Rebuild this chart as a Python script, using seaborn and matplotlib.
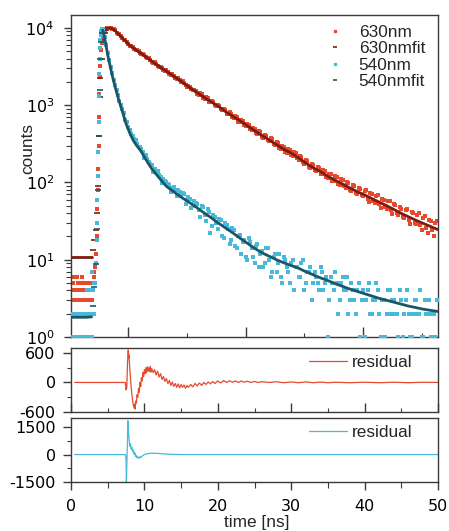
import numpy as np
import pandas as pd
import matplotlib
matplotlib.use("Agg")
import matplotlib.pyplot as plt
import seaborn as sns
from matplotlib.ticker import FixedLocator, LogLocator, NullFormatter
from matplotlib.lines import Line2D

# ---------------- data ----------------
# 630 nm decay: baseline, rise and decay parts (time in ns, counts)
red_base_t = np.round(np.arange(0, 3.15, 0.1), 2)
red_base_c = [6, 4, 3, 5, 6, 3, 2, 4, 6, 5, 3, 2, 4, 3, 5, 6, 4, 3, 2, 5,
              4, 3, 3, 4, 5, 2, 3, 4, 5, 3, 4, 6]
red_rise_t = [3.2, 3.3, 3.4, 3.5, 3.55, 3.6, 3.65, 3.7, 3.75, 3.8, 3.85, 3.9,
              3.95, 4.0, 4.1, 4.2, 4.3, 4.4, 4.5, 4.6, 4.7, 4.8, 4.9, 5.0]
red_rise_c = [7, 8, 12, 20, 30, 45, 80, 150, 300, 700, 1400, 2300,
              3200, 4000, 5200, 6300, 7300, 8100, 8800, 9200, 9500, 9800, 9900, 10100]
red_decay_t = np.round(np.arange(5.2, 49.7, 0.4), 1)
red_decay_c = [9950, 9700, 9300, 8400, 7900, 7000, 6600, 5900, 5700, 5150,
               5000, 4550, 4420, 4050, 3900, 3550, 3450, 3100, 3060, 2760,
               2720, 2480, 2420, 2180, 2150, 2040, 1800, 1790, 1600, 1590,
               1410, 1430, 1250, 1280, 1110, 1150, 1000, 1020, 880, 905,
               780, 810, 700, 720, 615, 650, 550, 575, 485, 510,
               440, 460, 390, 410, 350, 372, 312, 330, 280, 298,
               250, 270, 228, 245, 205, 220, 182, 195, 160, 175,
               145, 160, 130, 145, 118, 130, 106, 120, 96, 110,
               90, 100, 80, 92, 74, 85, 68, 78, 62, 72,
               57, 66, 52, 62, 48, 57, 44, 52, 40, 48,
               36, 44, 33, 41, 30, 38, 28, 35, 26, 33,
               24, 30]
red_decay2_t = np.round(np.arange(5.4, 49.9, 0.4), 1)
red_decay2_c = [9850, 9550, 8700, 8300, 7300, 6950, 6150, 5850, 5300, 5150,
                4700, 4600, 4150, 4050, 3650, 3570, 3200, 3150, 2850, 2820,
                2540, 2500, 2250, 2230, 1990, 1960, 1740, 1740, 1550, 1540,
                1370, 1380, 1210, 1230, 1090, 1100, 970, 985, 860, 870,
                760, 780, 680, 700, 605, 630, 540, 560, 475, 495,
                425, 445, 380, 400, 340, 362, 305, 322, 272, 290,
                244, 265, 222, 240, 198, 214, 175, 190, 155, 170,
                140, 156, 127, 142, 114, 128, 103, 117, 94, 107,
                86, 98, 78, 90, 71, 83, 66, 80, 56, 70,
                55, 68, 47, 60, 46, 58, 39, 51, 38, 46,
                35, 46, 29, 40, 29, 40, 24, 37, 22, 32,
                20, 32]

fit630_t = [0, 1, 2, 2.8, 3.0, 3.2, 3.4, 3.6, 3.7, 3.8, 3.9, 4.0, 4.2, 4.4, 4.6, 4.8,
            5.0, 5.3, 5.6, 6, 7, 8, 9, 10, 11, 12, 13, 14, 15, 16, 17, 18, 19, 20,
            21, 22, 23, 24, 25, 26, 27, 28, 29, 30, 31, 32, 33, 34, 35, 36, 37, 38,
            39, 40, 41, 42, 43, 44, 45, 46, 47, 48, 49, 50]
fit630_c = [10.7, 10.7, 10.7, 10.7, 13.2, 17.8, 24.0, 39.8, 89, 398, 1259, 2239,
            3981, 7079, 8511, 9333, 9886, 10000, 9772, 9226, 7413, 5957, 5070, 4365,
            3715, 3162, 2754, 2371, 2042, 1738, 1496, 1288, 1122, 977, 832, 724, 631,
            543, 468, 407, 355, 309, 269, 240, 209, 178, 155, 138, 120, 107, 95.5,
            85.1, 75.9, 69.2, 61.7, 55.6, 50.1, 44.7, 39.8, 35.9, 32.4, 29.5, 26.9, 24.5]

# 540 nm decay
cyan_base_t = np.round(np.arange(0, 3.25, 0.1), 2)
cyan_base_c = [1, 1, 2, 1, 1, 2, 2, 1, 1, 1, 2, 2, 1, 1, 1, 1, 2, 1, 1, 2,
               1, 1, 4, 2, 1, 4, 2, 4, 1, 7, 4, 2, 5]
cyan_rise_t = [3.3, 3.4, 3.5, 3.55, 3.6, 3.65, 3.7, 3.75, 3.8, 3.85, 3.9, 3.95,
               4.0, 4.05, 4.1, 4.2, 4.3]
cyan_rise_c = [5, 9, 18, 30, 60, 120, 250, 600, 1300, 2500, 4000, 5500,
               7000, 8200, 9000, 9800, 9500]
cyan_early_t = np.round(np.arange(4.4, 9.1, 0.2), 1)
cyan_early_c = [9200, 7600, 6000, 4700, 3800, 3150, 2600, 2150, 1850, 1560,
                1350, 1150, 1020, 880, 790, 650, 600, 520, 480, 420,
                400, 360, 350, 315]
cyan_late_t = np.round(np.arange(9.4, 49.9, 0.4), 1)
cyan_late_c = [290, 250, 225, 185, 170, 150, 140, 118, 112, 100,
               92, 86, 78, 80, 68, 70, 60, 62, 50, 55,
               44, 50, 38, 45, 22, 38, 30, 34, 20, 30,
               25, 18, 24, 14, 21, 17, 11, 19, 14, 9,
               16, 12, 8, 14, 10, 7, 12, 9, 6, 11,
               8, 5, 10, 8, 6, 9, 4, 7, 8, 5,
               6, 4, 7, 5, 1, 6, 4, 5, 3, 6,
               4, 2, 5, 3, 4, 1, 4, 3, 5, 2,
               3, 4, 1, 3, 2, 4, 3, 2, 1, 3,
               2, 4, 1, 2, 3, 2, 1, 3, 2, 1,
               2, 3]
cyan_late2_t = np.round(np.arange(9.6, 49.7, 0.4), 1)
cyan_late2_c = [270, 205, 200, 175, 135, 142, 125, 98, 105, 95,
                75, 88, 66, 76, 72, 52, 65, 47, 58, 52,
                36, 48, 32, 42, 27, 36, 25, 33, 19, 28,
                16, 26, 15, 20, 12, 18, 10, 17, 11, 15,
                8, 13, 9, 14, 6, 11, 7, 12, 5, 10,
                7, 9, 4, 8, 6, 10, 5, 7, 3, 7,
                5, 8, 4, 6, 3, 5, 7, 2, 5, 4,
                6, 3, 4, 2, 5, 3, 1, 4, 2, 3,
                5, 2, 3, 1, 4, 2, 3, 2, 4, 1,
                3, 2, 1, 3, 2, 4, 1, 2, 3, 2,
                1]

fit540_t = [0, 1, 2, 2.8, 3.0, 3.2, 3.4, 3.6, 3.7, 3.8, 3.9, 4.0, 4.1, 4.2, 4.3, 4.4,
            4.6, 4.8, 5.0, 5.3, 5.6, 6.0, 6.5, 7.0, 7.5, 8.0, 8.5, 9.0, 9.5, 10, 10.5,
            11, 12, 13, 14, 15, 16, 17, 18, 19, 20, 21, 22, 23, 24, 25, 26, 27, 28,
            29, 30, 31, 32, 33, 34, 35, 36, 37, 38, 39, 40, 41, 42, 43, 44, 45, 46,
            47, 48, 49, 50]
fit540_c = [1.8, 1.8, 1.8, 1.82, 2.51, 4.47, 8.91, 25.1, 79.4, 398, 1585, 3981, 6607,
            8511, 9333, 8913, 7244, 5754, 4467, 3311, 2455, 1738, 1175, 832, 575, 437,
            347, 295, 257, 214, 178, 151, 115, 89.1, 75.9, 64.6, 56.2, 48.4, 41.2,
            35.5, 30.2, 26.0, 22.4, 19.1, 16.4, 14.1, 12.3, 11.1, 10.0, 9.12, 8.41,
            7.76, 7.0, 6.38, 5.82, 5.37, 4.90, 4.52, 4.17, 3.89, 3.63, 3.39, 3.16,
            2.99, 2.82, 2.66, 2.51, 2.40, 2.29, 2.21, 2.14]
fit630_rise = (2.9, 5.2)   # time window where the fit is drawn as sparse dashes
fit540_rise = (2.9, 4.25)

# residuals
res630_t = [0.5, 7.4, 7.5, 7.6, 7.7, 7.8, 7.85, 7.9, 8.0, 8.1, 8.2, 8.3, 8.4, 8.5, 8.6,
            8.7, 8.75, 8.8, 8.9, 9.0, 9.1, 9.2, 9.3, 9.4, 9.5, 9.6, 9.7, 9.8, 9.9,
            10.0, 10.1, 10.2, 10.3, 10.4, 10.5, 10.6, 10.7, 10.8, 10.9, 11.0, 11.2,
            11.4, 11.6, 11.8, 12.0, 12.2, 12.4, 12.6, 12.8, 13.0, 13.2, 13.4, 13.6,
            13.8, 14.0, 14.2, 14.4, 14.6, 14.8, 15.0, 15.2, 15.4, 15.6, 15.8, 16.0,
            16.3, 16.6, 16.9, 17.2, 17.5, 17.8, 18.1, 18.4, 18.7, 19.0, 19.3, 19.6,
            20.0, 20.4, 20.8, 21.2, 21.6, 22.0, 22.4, 22.8, 23.2, 23.6, 24.0, 24.5,
            25.0, 25.5, 26, 27, 28, 29, 30, 31, 32, 33, 34, 35, 36, 38, 40, 42, 44,
            46, 48, 50]
res630_v = [0, 0, -150, -100, 400, 660, 500, 560, 300, 100, -100, -250, -380, -460,
            -520, -440, -540, -380, -420, -250, -300, -120, -200, 0, -80, 100, 30,
            200, 120, 260, 180, 300, 200, 320, 230, 300, 220, 330, 210, 280, 200,
            260, 150, 230, 110, 180, 60, 120, 20, 80, -20, 40, -60, 10, -80, -20,
            -100, -30, -110, -40, -100, -50, -120, -60, -100, -40, -90, -20, -70,
            -10, -60, 0, -40, 10, -30, 20, -20, 30, -10, 40, 0, 35, 5, 30, 0, 30,
            5, 25, 0, 20, 0, 15, 0, 15, -5, 10, -5, 10, -5, 8, -5, 5, -5, 5, -5, 5,
            -5, 5, 0]
res540_t = [0.5, 7.4, 7.5, 7.55, 7.6, 7.7, 7.75, 7.8, 7.9, 8.0, 8.1, 8.2, 8.3, 8.4,
            8.5, 8.6, 8.7, 8.8, 8.9, 9.0, 9.1, 9.2, 9.3, 9.4, 9.5, 9.6, 9.8, 10.0,
            10.3, 10.6, 11.0, 11.5, 12.0, 12.5, 13.0, 14.0, 15.0, 20.0, 30.0, 40.0, 50.0]
res540_v = [0, 0, -200, -1500, -600, 800, 1850, 1400, 900, 450, 600, 300, 400, 150,
            250, 0, 100, -100, -50, -180, -120, -200, -150, -180, -100, -120, -50, 0,
            30, 60, 80, 70, 60, 40, 30, 10, 0, 0, 0, 0, 0]

legend_labels = ["630nm", "630nmfit", "540nm", "540nmfit"]
res_label = "residual"
main_xmajor = [7.77, 23.8, 39.8]
main_xminor = [15.8, 31.75, 47.85]
res1_yticks = [-600, 0, 600]
res1_ylabels = ["-600", "0", "600"]
res2_yticks = [-1500, 0, 1500]
res2_ylabels = ["-1500", "0", "1500"]
x_ticks = [0, 10, 20, 30, 40, 50]

# ---------------- style ----------------
RED = "#E8492D"
DRED = "#7A1C10"
CYAN = "#48B9D9"
TEAL = "#1B5667"
SPINE = "#3a3a3a"

sns.set_theme(style="white")
plt.rcParams['font.family'] = ['Liberation Sans', 'DejaVu Sans']
plt.rcParams['axes.unicode_minus'] = False
plt.rcParams['mathtext.fontset'] = 'dejavusans'

TXT = 12.4
TICKFS = 11.5
DOT = 7

fig = plt.figure(figsize=(4.49, 5.31), dpi=100)
W, H = 449, 531
ax = fig.add_axes([71 / W, (H - 337) / H, 367 / W, 322 / H])
ax1 = fig.add_axes([71 / W, (H - 412) / H, 367 / W, 64 / H])
ax2 = fig.add_axes([71 / W, (H - 482) / H, 367 / W, 64 / H])

# ---------------- main panel ----------------
d630 = pd.DataFrame({"t": np.concatenate([red_base_t, red_rise_t, red_decay_t, red_decay2_t]),
                     "c": np.concatenate([red_base_c, red_rise_c, red_decay_c, red_decay2_c])})
d540 = pd.DataFrame({"t": np.concatenate([cyan_base_t, cyan_rise_t, cyan_early_t,
                                          cyan_late_t, cyan_late2_t]),
                     "c": np.concatenate([cyan_base_c, cyan_rise_c, cyan_early_c,
                                          cyan_late_c, cyan_late2_c])})
f630 = pd.DataFrame({"t": fit630_t, "c": fit630_c})
f540 = pd.DataFrame({"t": fit540_t, "c": fit540_c})


def draw_fit(df, win, color, z):
    lo, hi = win
    inside = (df.t > lo) & (df.t < hi)
    before = df[df.t <= lo + 0.01]
    after = df[df.t >= hi - 0.01]
    sns.lineplot(data=before, x="t", y="c", ax=ax, color=color, lw=2.0,
                 estimator=None, sort=False, zorder=z)
    sns.lineplot(data=after, x="t", y="c", ax=ax, color=color, lw=2.0,
                 estimator=None, sort=False, zorder=z)
    sns.scatterplot(data=df[inside], x="t", y="c", ax=ax, color=color,
                    marker="_", s=14, linewidth=1.2, zorder=z)


sns.scatterplot(data=d630, x="t", y="c", ax=ax, color=RED, marker="s", s=DOT,
                linewidth=0, zorder=2)
draw_fit(f630, fit630_rise, DRED, 3)
sns.scatterplot(data=d540, x="t", y="c", ax=ax, color=CYAN, marker="s", s=DOT,
                linewidth=0, zorder=4)
draw_fit(f540, fit540_rise, TEAL, 5)

ax.set_yscale("log")
ax.set_xlim(0, 50)
ax.set_ylim(1, 14700)
ax.set_xlabel("")
ax.set_ylabel("")
ax.yaxis.set_major_locator(LogLocator(base=10, numticks=10))
ax.yaxis.set_minor_locator(LogLocator(base=10, subs=np.arange(2, 10), numticks=30))
ax.yaxis.set_minor_formatter(NullFormatter())
ax.xaxis.set_major_locator(FixedLocator(main_xmajor))
ax.xaxis.set_minor_locator(FixedLocator(main_xminor))
ax.tick_params(axis="y", which="major", direction="out", left=True, right=False,
               length=5, width=1.0, color=SPINE, labelsize=TICKFS, pad=7,
               labelfontfamily="DejaVu Sans", labelcolor="black")
ax.tick_params(axis="y", which="minor", direction="out", left=True, right=False,
               length=3.5, width=0.8, color=SPINE)
ax.tick_params(axis="x", which="major", direction="in", bottom=True, top=False,
               length=7, width=1.0, color=SPINE, labelbottom=False)
ax.tick_params(axis="x", which="minor", direction="in", bottom=True, top=False,
               length=3, width=0.8, color=SPINE)

handles = [Line2D([], [], ls="none", marker="s", ms=2, color=RED),
           Line2D([], [], ls="none", marker="_", ms=3, mew=1.2, color=DRED),
           Line2D([], [], ls="none", marker="s", ms=2, color=CYAN),
           Line2D([], [], ls="none", marker="_", ms=3, mew=1.2, color=TEAL)]
ax.legend(handles, legend_labels, loc="upper left",
          bbox_to_anchor=(326 / W, 1 - 25 / H), bbox_transform=fig.transFigure,
          frameon=False, handlelength=1.0, handletextpad=0.9, labelspacing=0.08,
          borderpad=0, borderaxespad=0, prop={"family": "Liberation Sans", "size": TXT})

# ---------------- residual panels ----------------
r630 = pd.DataFrame({"t": res630_t, "v": res630_v})
r540 = pd.DataFrame({"t": res540_t, "v": res540_v})
sns.lineplot(data=r630, x="t", y="v", ax=ax1, color=RED, lw=0.9, estimator=None,
             sort=False, label=res_label)
sns.lineplot(data=r540, x="t", y="v", ax=ax2, color=CYAN, lw=0.9, estimator=None,
             sort=False, label=res_label)

ax1.set_xlim(0, 50)
ax1.set_ylim(-600, 700)
ax2.set_xlim(0, 50)
ax2.set_ylim(-1490, 2000)
for a, yt, yl, ym in ((ax1, res1_yticks, res1_ylabels, [-300, 300]),
                      (ax2, res2_yticks, res2_ylabels, [-750, 750])):
    a.set_xlabel("")
    a.set_ylabel("")
    a.set_yticks(yt, yl)
    a.yaxis.set_minor_locator(FixedLocator(ym))
    a.set_xticks(x_ticks)
    a.xaxis.set_minor_locator(FixedLocator([5, 15, 25, 35, 45]))
    a.tick_params(axis="y", which="major", direction="out", left=True, right=False,
                  length=6, width=1.0, color=SPINE, labelsize=TICKFS, pad=5,
                  labelfontfamily="DejaVu Sans", labelcolor="black")
    a.tick_params(axis="y", which="minor", direction="out", left=True, right=False,
                  length=3, width=0.8, color=SPINE)

ax1.tick_params(axis="x", which="major", direction="in", bottom=True, top=False,
                length=6.5, width=1.0, color=SPINE, labelbottom=False)
ax1.tick_params(axis="x", which="minor", direction="in", bottom=True, top=False,
                length=2.8, width=0.8, color=SPINE)
ax2.tick_params(axis="x", which="major", direction="out", bottom=True, top=False,
                length=6, width=1.0, color=SPINE, labelsize=TICKFS, pad=6,
                labelfontfamily="DejaVu Sans", labelcolor="black")
ax2.tick_params(axis="x", which="minor", direction="out", bottom=True, top=False,
                length=4, width=0.8, color=SPINE)

for a, ytop in ((ax1, 355), (ax2, 425)):
    a.legend(loc="upper left", bbox_to_anchor=(309 / W, 1 - ytop / H),
             bbox_transform=fig.transFigure, frameon=False, handlelength=2.2,
             handletextpad=0.3, borderpad=0, borderaxespad=0,
             prop={"family": "Liberation Sans", "size": TXT})

for a in (ax, ax1, ax2):
    for s in a.spines.values():
        s.set_color(SPINE)
        s.set_linewidth(1.0)
    a.set_facecolor("white")

fig.text(28 / W, 1 - 148 / H, "counts", rotation=90, ha="center", va="center",
         fontsize=TXT, family="Liberation Sans")
fig.text(257 / W, (H - 527) / H, "time [ns]", ha="center", va="baseline",
         fontsize=TXT, family="Liberation Sans")

fig.savefig("out.png", dpi=100, facecolor="white")
